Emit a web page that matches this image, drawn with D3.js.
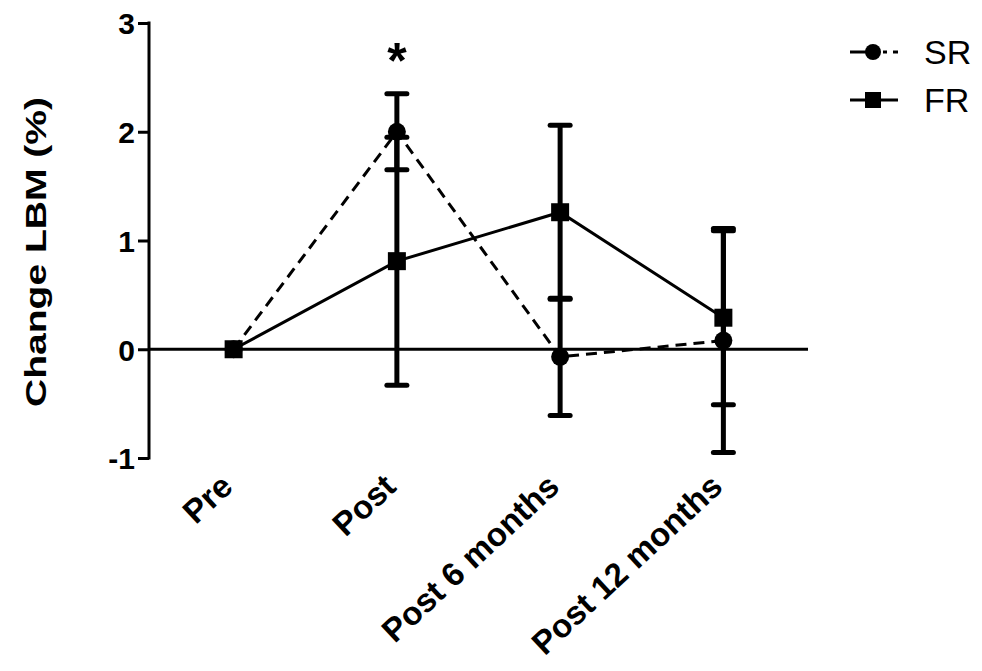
<!DOCTYPE html>
<html><head><meta charset="utf-8">
<script src="https://cdn.jsdelivr.net/npm/d3@7"></script>
<style>body{margin:0;background:#fff;}svg{display:block;font-family:"Liberation Sans",Arial,sans-serif;}</style>
</head><body><svg id="c" width="982" height="671"></svg>
<script>
const categories = ["Pre", "Post", "Post 6 months", "Post 12 months"];
const srMean = [0, 2.0, -0.07, 0.08];
const srSD   = [0, 0.35, 0.54, 1.03];
const frMean = [0, 0.81, 1.26, 0.29];
const frSD   = [0, 1.14, 0.80, 0.80];
const yTicks = [-1, 0, 1, 2, 3];
const seriesNames = ["SR", "FR"];

const svg = d3.select("#c");
const x = d3.scalePoint().domain(categories).range([152, 805]).padding(0.5);
const y = d3.scaleLinear().domain([-1, 3]).range([458, 23]);
const axisX = 149;

// y axis
const yAxis = d3.axisLeft(y).tickValues(yTicks).tickFormat(d => String(d)).tickSize(11).tickSizeOuter(0);
const gy = svg.append("g").attr("transform", `translate(${axisX},0)`).call(yAxis);
gy.select(".domain").attr("stroke", "#000").attr("stroke-width", 3).attr("d", `M0,${y(-1)+1.5}V${y(3)-1.5}`);
gy.selectAll(".tick line").attr("stroke", "#000").attr("stroke-width", 3).attr("x1", -11).attr("x2", 0);
gy.selectAll(".tick text").attr("x", -14).attr("font-size", 30).attr("font-weight", "bold").attr("fill", "#000").attr("dy", "0.36em").attr("font-family", "'Liberation Sans',Arial,sans-serif");

// zero line
svg.append("line").attr("x1", axisX).attr("x2", 808).attr("y1", y(0)).attr("y2", y(0)).attr("stroke", "#000").attr("stroke-width", 3);

// y label
svg.append("text").attr("transform", `translate(46,252) rotate(-90)`).attr("text-anchor", "middle")
  .attr("font-size", 30).attr("font-weight", "bold")
  .attr("textLength", 310).attr("lengthAdjust", "spacingAndGlyphs").text("Change LBM (%)");

// x labels
categories.forEach(c => {
  svg.append("text").attr("transform", `translate(${x(c)+1},${489}) rotate(-43)`).attr("text-anchor", "end")
    .attr("font-size", 33).attr("font-weight", "bold").text(c);
});

const line = d3.line().x((d, i) => x(categories[i])).y(d => y(d));
svg.append("path").datum(srMean).attr("d", line).attr("fill", "none").attr("stroke", "#000").attr("stroke-width", 3).attr("stroke-dasharray", "11,7");
svg.append("path").datum(frMean).attr("d", line).attr("fill", "none").attr("stroke", "#000").attr("stroke-width", 3);

function errBars(mean, sd) {
  mean.forEach((m, i) => {
    if (!sd[i]) return;
    const cx = x(categories[i]);
    svg.append("line").attr("x1", cx).attr("x2", cx).attr("y1", y(m - sd[i])).attr("y2", y(m + sd[i])).attr("stroke", "#000").attr("stroke-width", 5);
    [m - sd[i], m + sd[i]].forEach(v => {
      svg.append("line").attr("x1", cx - 10).attr("x2", cx + 10).attr("y1", y(v)).attr("y2", y(v)).attr("stroke", "#000").attr("stroke-width", 5).attr("stroke-linecap", "round");
    });
  });
}
errBars(srMean, srSD);
errBars(frMean, frSD);

srMean.forEach((m, i) => svg.append("circle").attr("cx", x(categories[i])).attr("cy", y(m)).attr("r", 9).attr("fill", "#000"));
frMean.forEach((m, i) => svg.append("rect").attr("x", x(categories[i]) - 9).attr("y", y(m) - 9).attr("width", 18).attr("height", 18).attr("fill", "#000"));

// asterisk
svg.append("text").attr("x", x("Post")).attr("y", 78).attr("text-anchor", "middle").attr("font-size", 50).attr("font-weight", "bold").text("*");

// legend
const lg = svg.append("g");
const ly = [52, 100];
lg.append("line").attr("x1", 850).attr("x2", 878).attr("y1", ly[0]).attr("y2", ly[0]).attr("stroke", "#000").attr("stroke-width", 3);
lg.append("line").attr("x1", 883).attr("x2", 887).attr("y1", ly[0]).attr("y2", ly[0]).attr("stroke", "#000").attr("stroke-width", 3);
lg.append("line").attr("x1", 893).attr("x2", 898).attr("y1", ly[0]).attr("y2", ly[0]).attr("stroke", "#000").attr("stroke-width", 3);
lg.append("circle").attr("cx", 873).attr("cy", ly[0]).attr("r", 8).attr("fill", "#000");
lg.append("line").attr("x1", 850).attr("x2", 898).attr("y1", ly[1]).attr("y2", ly[1]).attr("stroke", "#000").attr("stroke-width", 3);
lg.append("rect").attr("x", 865).attr("y", ly[1] - 8).attr("width", 16).attr("height", 16).attr("fill", "#000");
seriesNames.forEach((n, i) => {
  lg.append("text").attr("x", 924).attr("y", ly[i]).attr("dy", "0.36em").attr("font-size", 34).text(n);
});
</script></body></html>
